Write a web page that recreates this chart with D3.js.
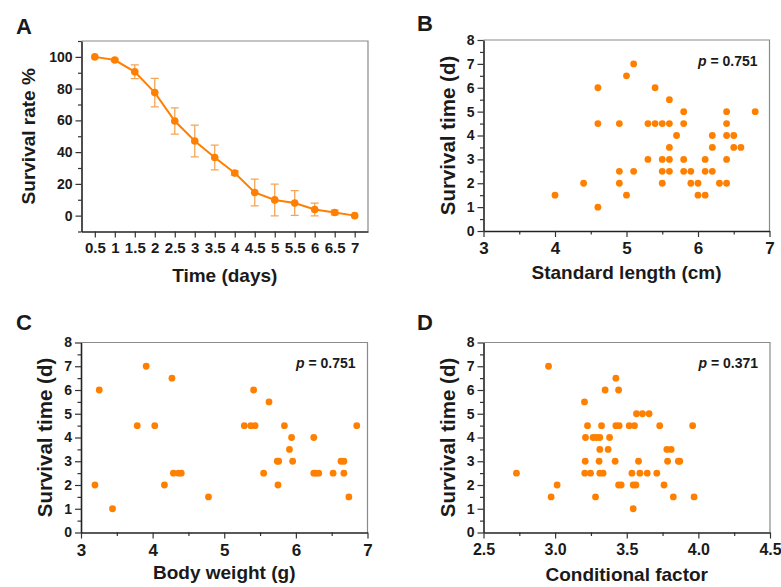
<!DOCTYPE html>
<html>
<head>
<meta charset="utf-8">
<script src="https://cdn.jsdelivr.net/npm/d3@7"></script>
<style>
  body { margin: 0; background: #fff; }
  text { font-family: Arial, "Liberation Sans", sans-serif; font-weight: bold; fill: #1a1a1a; }
</style>
</head>
<body>
<div class="figure"></div>
<script>
var svgWidth = 781;
var svgHeight = 587;

// panel A: survival rate over time
var timeDays = [0.5, 1, 1.5, 2, 2.5, 3, 3.5, 4, 4.5, 5, 5.5, 6, 6.5, 7];
var survivalRate = [100, 98, 90.6, 77.5, 59.6, 47, 36.6, 26.8, 14.6, 9.9, 7.9, 3.9, 2, 0];
var survivalErr = [0, 0.8, 4.3, 9, 8.3, 10, 7.8, 1.3, 8.4, 10, 7.8, 4, 1.5, 0];
var timeTickLabels = ["0.5", "1", "1.5", "2", "2.5", "3", "3.5", "4", "4.5", "5", "5.5", "6", "6.5", "7"];

// panel B: standard length vs survival time
var lengthB = [4.0, 4.4, 4.6, 4.6, 4.6, 4.9, 4.9, 4.9, 5.0, 5.0, 5.1, 5.1, 5.3, 5.3, 5.4, 5.4,
  5.5, 5.5, 5.5, 5.5, 5.6, 5.6, 5.6, 5.6, 5.6, 5.7, 5.8, 5.8, 5.8, 5.8, 5.9, 5.9, 6.0, 6.0,
  6.1, 6.1, 6.1, 6.2, 6.2, 6.2, 6.3, 6.4, 6.4, 6.4, 6.4, 6.4, 6.5, 6.5, 6.6, 6.8];
var survivalB = [1.5, 2, 6, 4.5, 1, 4.5, 2.5, 2, 6.5, 1.5, 7, 2.5, 4.5, 3, 6, 4.5,
  4.5, 3, 2.5, 2, 5.5, 4.5, 3.5, 3, 2.5, 4, 5, 4.5, 3, 2.5, 2.5, 2, 2, 1.5,
  3, 2.5, 1.5, 4, 3.5, 2.5, 2, 5, 4.5, 4, 3, 2, 4, 3.5, 3.5, 5];

// panel C: body weight vs survival time
var weightC = [3.195, 3.255, 3.44, 3.785, 3.91, 4.03, 4.165, 4.27, 4.29, 4.36, 4.40, 4.78,
  5.28, 5.37, 5.43, 5.41, 5.625, 5.55, 5.74, 5.76, 5.75, 5.84, 5.91, 5.94, 5.955,
  6.25, 6.25, 6.28, 6.32, 6.52, 6.63, 6.67, 6.67, 6.74, 6.85];
var survivalC = [2, 6, 1, 4.5, 7, 4.5, 2, 6.5, 2.5, 2.5, 2.5, 1.5,
  4.5, 4.5, 4.5, 6, 5.5, 2.5, 3, 3, 2, 4.5, 3.5, 4, 3,
  4, 2.5, 2.5, 2.5, 2.5, 3, 3, 2.5, 1.5, 4.5];

// panel D: conditional factor vs survival time
var factorD = [2.73, 2.954, 2.972, 3.014, 3.205, 3.212, 3.21, 3.207, 3.226, 3.247, 3.265, 3.289,
  3.312, 3.282, 3.312, 3.307, 3.312, 3.335, 3.324, 3.349, 3.37, 3.38, 3.419, 3.424, 3.447,
  3.424, 3.443, 3.443, 3.461, 3.517, 3.554, 3.536, 3.545, 3.564, 3.545, 3.568, 3.582, 3.592,
  3.61, 3.643, 3.656, 3.71, 3.73, 3.76, 3.78, 3.785, 3.81, 3.825, 3.86, 3.87, 3.96, 3.97];
var survivalD = [2.5, 7, 1.5, 2, 5.5, 4, 3, 2.5, 4.5, 2.5, 4, 4,
  4, 1.5, 3.5, 3, 2.5, 2.5, 4.5, 6, 3.5, 4, 3, 4.5, 4.5,
  6.5, 6, 2, 2, 4.5, 4.5, 2.5, 2, 2, 1, 5, 3, 2.5,
  5, 2.5, 5, 2.5, 4.5, 2, 3.5, 3, 3.5, 1.5, 3, 3, 4.5, 1.5];
var factorTickLabels = ["2.5", "3.0", "3.5", "4.0", "4.5"];

var orange = "#ff8000";

var svg = d3.select(".figure")
  .append("svg")
  .attr("width", svgWidth)
  .attr("height", svgHeight);

function drawFrame(x, y, opts) {
  var g = svg.append("g");
  var x0 = x.range()[0], x1 = x.range()[1];
  var y0 = y.range()[0], y1 = y.range()[1];

  // grey box on top and right
  g.append("path")
    .attr("d", `M${x0},${y1}H${x1}V${y0}`)
    .attr("fill", "none")
    .attr("stroke", "#8a8a8a")
    .attr("stroke-width", 1.2);

  // minor ticks
  g.append("g")
    .attr("transform", `translate(${x0},0)`)
    .call(d3.axisLeft(y).tickValues(opts.yMinor).tickSize(3.5).tickFormat(""))
    .call(a => a.select(".domain").remove());
  if (opts.xMinor) {
    g.append("g")
      .attr("transform", `translate(0,${y0})`)
      .call(d3.axisBottom(x).tickValues(opts.xMinor).tickSize(3.5).tickFormat(""))
      .call(a => a.select(".domain").remove());
  }

  var leftAxis = d3.axisLeft(y).tickValues(opts.yTicks).tickSize(6).tickPadding(3)
    .tickSizeOuter(0).tickFormat(d3.format("d"));
  var bottomAxis = d3.axisBottom(x).tickValues(opts.xTicks).tickSize(6).tickPadding(5)
    .tickSizeOuter(0).tickFormat(opts.xFormat || d3.format("d"));

  var ly = g.append("g")
    .attr("transform", `translate(${x0},0)`)
    .call(leftAxis);
  ly.selectAll("text").style("font-size", "14px");

  var lx = g.append("g")
    .attr("transform", `translate(0,${y0})`)
    .call(bottomAxis);
  lx.selectAll("text").style("font-size", opts.xFontSize || "15px");

  g.selectAll(".tick line").attr("stroke", "#333").attr("stroke-width", 1.2);
  g.selectAll(".domain").attr("stroke", "#222").attr("stroke-width", 1.6);
  g.selectAll(".tick text").attr("fill", "#1a1a1a").style("font-family", "Arial, 'Liberation Sans', sans-serif")
    .style("font-weight", "bold");

  // axis titles
  svg.append("text")
    .attr("x", (x0 + x1) / 2)
    .attr("y", y0 + opts.xTitleDy)
    .attr("text-anchor", "middle")
    .style("font-size", "19px")
    .text(opts.xTitle);

  svg.append("text")
    .attr("transform", `translate(${x0 + opts.yTitleDx}, ${(y0 + y1) / 2}) rotate(-90)`)
    .attr("text-anchor", "middle")
    .style("font-size", opts.yTitleSize || "19px")
    .text(opts.yTitle);

  // panel letter
  svg.append("text")
    .attr("x", opts.letterPos[0])
    .attr("y", opts.letterPos[1])
    .style("font-size", "22px")
    .text(opts.letter);

  if (opts.pText) {
    var p = svg.append("text")
      .attr("x", x1 - 12)
      .attr("y", y1 + 25.5)
      .attr("text-anchor", "end")
      .style("font-size", "14px");
    p.append("tspan").style("font-style", "italic").text("p");
    p.append("tspan").text(" = " + opts.pText);
  }
}

var survivalTicks = [0, 1, 2, 3, 4, 5, 6, 7, 8];
var survivalMinor = [0.5, 1.5, 2.5, 3.5, 4.5, 5.5, 6.5, 7.5];

// ---- A ----
var xA = d3.scaleLinear().domain([0.167, 7.333]).range([81.5, 368]);
var yA = d3.scaleLinear().domain([-10, 110]).range([231.5, 41]);

drawFrame(xA, yA, {
  xTicks: timeDays,
  xFormat: (d, i) => timeTickLabels[i],
  yTicks: [0, 20, 40, 60, 80, 100],
  yMinor: [-10, 10, 30, 50, 70, 90, 110],
  xTitle: "Time (days)", xTitleDy: 50,
  yTitle: "Survival rate %", yTitleDx: -47,
  letter: "A", letterPos: [16, 34],
  xFontSize: "15px"
});

var aData = timeDays.map((t, i) => ({ t: t, v: survivalRate[i], e: survivalErr[i] }));
var errG = svg.append("g")
  .attr("stroke", "#f5a556")
  .attr("stroke-width", 1.3)
  .attr("fill", "none");
aData.filter(d => d.e > 0).forEach(function(d) {
  var cx = xA(d.t);
  errG.append("path")
    .attr("d", `M${cx},${yA(d.v + d.e)}V${yA(d.v - d.e)}M${cx - 4},${yA(d.v + d.e)}h8M${cx - 4},${yA(d.v - d.e)}h8`);
});

svg.append("path")
  .datum(aData)
  .attr("fill", "none")
  .attr("stroke", orange)
  .attr("stroke-width", 2)
  .attr("d", d3.line().x(d => xA(d.t)).y(d => yA(d.v)));

svg.append("g").selectAll("circle")
  .data(aData)
  .enter()
  .append("circle")
  .attr("cx", d => xA(d.t))
  .attr("cy", d => yA(d.v))
  .attr("r", 3.8)
  .attr("fill", orange);

// ---- B ----
var xB = d3.scaleLinear().domain([3, 7]).range([483.5, 769.5]);
var yB = d3.scaleLinear().domain([0, 8]).range([231, 40]);

drawFrame(xB, yB, {
  xTicks: [3, 4, 5, 6, 7],
  xMinor: [3.5, 4.5, 5.5, 6.5],
  yTicks: survivalTicks,
  yMinor: survivalMinor,
  xTitle: "Standard length (cm)", xTitleDy: 48,
  yTitle: "Survival time (d)", yTitleDx: -29, yTitleSize: "20.5px",
  letter: "B", letterPos: [417, 31],
  xFontSize: "17px",
  pText: "0.751"
});

svg.append("g").selectAll("circle")
  .data(lengthB)
  .enter()
  .append("circle")
  .attr("cx", d => xB(d))
  .attr("cy", (d, i) => yB(survivalB[i]))
  .attr("r", 3.4)
  .attr("fill", orange);

// ---- C ----
var xC = d3.scaleLinear().domain([3, 7]).range([81, 367.5]);
var yC = d3.scaleLinear().domain([0, 8]).range([532.5, 342.5]);

drawFrame(xC, yC, {
  xTicks: [3, 4, 5, 6, 7],
  xMinor: [3.5, 4.5, 5.5, 6.5],
  yTicks: survivalTicks,
  yMinor: survivalMinor,
  xTitle: "Body weight (g)", xTitleDy: 46,
  yTitle: "Survival time (d)", yTitleDx: -29, yTitleSize: "20.5px",
  letter: "C", letterPos: [16, 330],
  xFontSize: "17px",
  pText: "0.751"
});

svg.append("g").selectAll("circle")
  .data(weightC)
  .enter()
  .append("circle")
  .attr("cx", d => xC(d))
  .attr("cy", (d, i) => yC(survivalC[i]))
  .attr("r", 3.4)
  .attr("fill", orange);

// ---- D ----
var xD = d3.scaleLinear().domain([2.5, 4.5]).range([483.5, 770]);
var yD = d3.scaleLinear().domain([0, 8]).range([532.5, 342.5]);

drawFrame(xD, yD, {
  xTicks: [2.5, 3, 3.5, 4, 4.5],
  xFormat: (d, i) => factorTickLabels[i],
  xMinor: [2.75, 3.25, 3.75, 4.25],
  yTicks: survivalTicks,
  yMinor: survivalMinor,
  xTitle: "Conditional factor", xTitleDy: 48,
  yTitle: "Survival time (d)", yTitleDx: -29, yTitleSize: "20.5px",
  letter: "D", letterPos: [417, 330],
  xFontSize: "16px",
  pText: "0.371"
});

svg.append("g").selectAll("circle")
  .data(factorD)
  .enter()
  .append("circle")
  .attr("cx", d => xD(d))
  .attr("cy", (d, i) => yD(survivalD[i]))
  .attr("r", 3.4)
  .attr("fill", orange);
</script>
</body>
</html>
